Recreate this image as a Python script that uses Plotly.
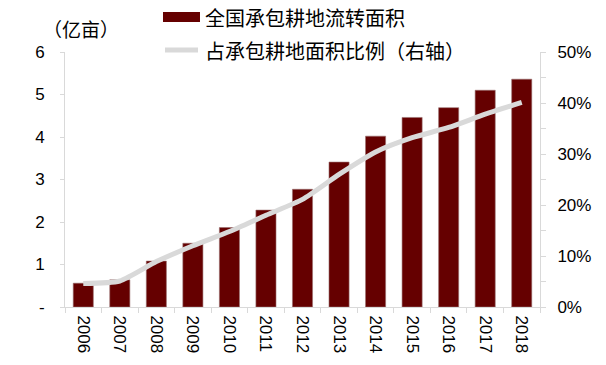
import plotly.graph_objects as go

years = ["2006", "2007", "2008", "2009", "2010", "2011", "2012",
         "2013", "2014", "2015", "2016", "2017", "2018"]
area = [0.56, 0.64, 1.08, 1.50, 1.87, 2.28, 2.77, 3.41, 4.02, 4.46, 4.69, 5.10, 5.36]
share = [0.046, 0.051, 0.089, 0.120, 0.148, 0.180, 0.211, 0.260, 0.304, 0.332, 0.352, 0.378, 0.401]
left_ticks = [0, 1, 2, 3, 4, 5, 6]
left_text = ["-", "1", "2", "3", "4", "5", "6"]
name_bar = "全国承包耕地流转面积"
name_line = "占承包耕地面积比例（右轴）"
unit = "（亿亩）"

BAR = "#650000"
LINE = "#D9D9D9"
AX = "#D9D9D9"
FONT = "Arial, Liberation Sans, Noto Sans CJK SC, sans-serif"
CJK = "Noto Sans CJK SC, sans-serif"

fig = go.Figure()
fig.add_trace(go.Bar(x=years, y=area, marker=dict(color=BAR, line=dict(color="#9a7070", width=0.6)),
                     name=name_bar, showlegend=False))
fig.add_trace(go.Scatter(x=years, y=share, yaxis="y2", mode="lines",
                         line=dict(color=LINE, width=5, shape="spline", smoothing=0.6),
                         name=name_line, showlegend=False))

fig.update_layout(
    width=606, height=365,
    margin=dict(l=65, r=66, t=52, b=58, autoexpand=False),
    paper_bgcolor="white", plot_bgcolor="white",
    font=dict(family=FONT, size=17, color="black"),
    bargap=0.45,
    xaxis=dict(type="category", tickangle=90, showline=True, linecolor=AX, linewidth=1,
               ticks="outside", tickson="boundaries", ticklen=5, tickcolor=AX,
               showgrid=False, tickfont=dict(size=17), ticklabelstandoff=4),
    yaxis=dict(range=[0, 6], tickvals=left_ticks, ticktext=left_text, showline=True,
               linecolor=AX, ticks="outside", ticklen=4, tickcolor=AX, showgrid=False,
               zeroline=False, tickfont=dict(size=17), ticklabelstandoff=12),
    yaxis2=dict(range=[0, 0.5], overlaying="y", side="right", tickformat=".0%", dtick=0.1,
                showline=True, linecolor=AX, ticks="outside", ticklen=5, tickcolor=AX,
                minor=dict(dtick=0.05, ticks="outside", ticklen=5, tickcolor=AX),
                showgrid=False, zeroline=False, tickfont=dict(size=17), ticklabelstandoff=8),
)

# custom legend
fig.add_shape(type="rect", xref="paper", yref="paper", x0=0.2063, x1=0.2842, y0=1.1176, y1=1.1569,
              fillcolor=BAR, line=dict(width=0))
fig.add_shape(type="line", xref="paper", yref="paper", x0=0.2105, x1=0.2800, y0=1.0078, y1=1.0078,
              line=dict(color=LINE, width=5))
fig.add_annotation(text=name_bar, xref="paper", yref="paper", x=0.2905, y=1.137, xanchor="left",
                   yanchor="middle", showarrow=False, font=dict(family=CJK, size=20))
fig.add_annotation(text=name_line, xref="paper", yref="paper", x=0.2905, y=1.004, xanchor="left",
                   yanchor="middle", showarrow=False, font=dict(family=CJK, size=20))
fig.add_annotation(text=unit, xref="paper", yref="paper", x=0.034, y=1.094, xanchor="center",
                   yanchor="middle", showarrow=False, font=dict(family=CJK, size=19))

fig.write_html("out.html", config={"displayModeBar": False},
               post_script="document.body.style.margin='0';document.body.style.padding='0';")
